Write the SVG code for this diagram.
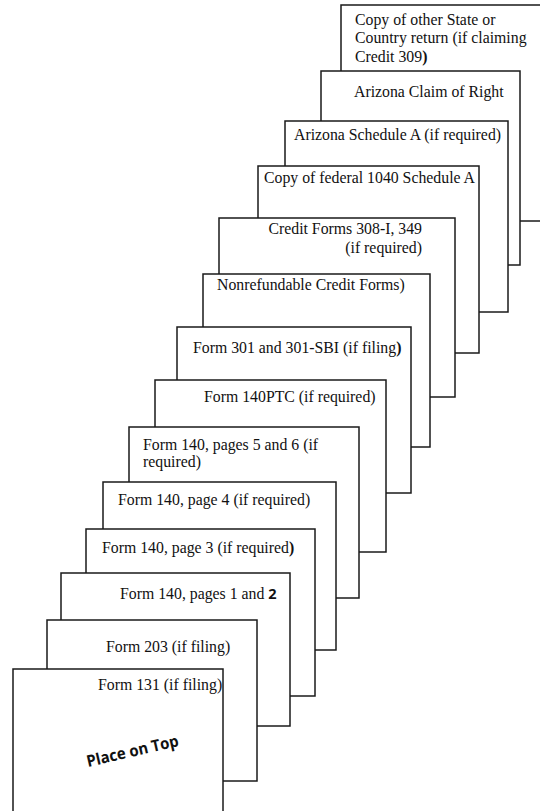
<svg xmlns="http://www.w3.org/2000/svg" width="540" height="811" viewBox="0 0 540 811">
<style>
.pg{fill:#fff;stroke:#1a1a1a;stroke-width:1.5}
.t{font-family:"Liberation Serif","Times New Roman",serif;font-size:15.8px;fill:#111}
.b{font-weight:bold}
.s{font-family:"Open Sans","Liberation Sans",sans-serif;font-weight:bold}
.top{font-family:"Open Sans","Liberation Sans",sans-serif;font-weight:bold;font-size:16px;fill:#111}
</style>
<rect width="540" height="811" fill="#fff"/>
<g id="page-other-state">
<rect class="pg" x="341" y="5" width="210" height="216"/>
<text class="t" x="355" y="24.5">Copy of other State or</text>
<text class="t" x="355" y="43">Country return (if claiming</text>
<text class="t" x="355" y="61.5">Credit 309<tspan class="b">)</tspan></text>
</g>
<g id="page-claim-of-right">
<rect class="pg" x="321" y="71" width="199" height="194"/>
<text class="t" x="354" y="97">Arizona Claim of Right</text>
</g>
<g id="page-az-schedule-a">
<rect class="pg" x="285" y="121" width="223" height="191"/>
<text class="t" x="294" y="140">Arizona Schedule A (if required)</text>
</g>
<g id="page-fed-schedule-a">
<rect class="pg" x="258" y="166" width="221" height="187"/>
<text class="t" x="264" y="183">Copy of federal 1040 Schedule A</text>
</g>
<g id="page-credit-forms">
<rect class="pg" x="219" y="218" width="236" height="179"/>
<text class="t" x="422" y="234" text-anchor="end">Credit Forms 308-I, 349</text>
<text class="t" x="422" y="253" text-anchor="end">(if required)</text>
</g>
<g id="page-nonrefundable">
<rect class="pg" x="203" y="274" width="227" height="173"/>
<text class="t" x="217" y="290">Nonrefundable Credit Forms)</text>
</g>
<g id="page-form-301">
<rect class="pg" x="177" y="327" width="234" height="166"/>
<text class="t" x="193" y="353">Form 301 and 301-SBI (if filing<tspan class="b">)</tspan></text>
</g>
<g id="page-140ptc">
<rect class="pg" x="155" y="380" width="231" height="172"/>
<text class="t" x="204" y="402">Form 140PTC (if required)</text>
</g>
<g id="page-140-p5-6">
<rect class="pg" x="129" y="427" width="230" height="171"/>
<text class="t" x="143" y="450">Form 140, pages 5 and 6 (if</text>
<text class="t" x="143" y="467">required)</text>
</g>
<g id="page-140-p4">
<rect class="pg" x="103" y="482" width="233" height="168"/>
<text class="t" x="118" y="505">Form 140, page 4 (if required)</text>
</g>
<g id="page-140-p3">
<rect class="pg" x="86" y="529" width="229" height="167"/>
<text class="t" x="102" y="553">Form 140, page 3 (if required<tspan class="b">)</tspan></text>
</g>
<g id="page-140-p1-2">
<rect class="pg" x="61" y="573" width="229" height="153"/>
<text class="t" x="120" y="599">Form 140, pages 1 and <tspan class="s" font-size="14.5">2</tspan></text>
</g>
<g id="page-form-203">
<rect class="pg" x="47" y="620" width="210" height="161"/>
<text class="t" x="106" y="652">Form 203 (if filing)</text>
</g>
<g id="page-form-131">
<rect class="pg" x="13" y="669" width="210" height="150"/>
<text class="t" x="98" y="690">Form 131 (if filing)</text>
<text class="top" x="88" y="767" transform="rotate(-13 88 767)" textLength="94" lengthAdjust="spacingAndGlyphs">Place on Top</text>
</g>
<g id="connectors"/>
</svg>
